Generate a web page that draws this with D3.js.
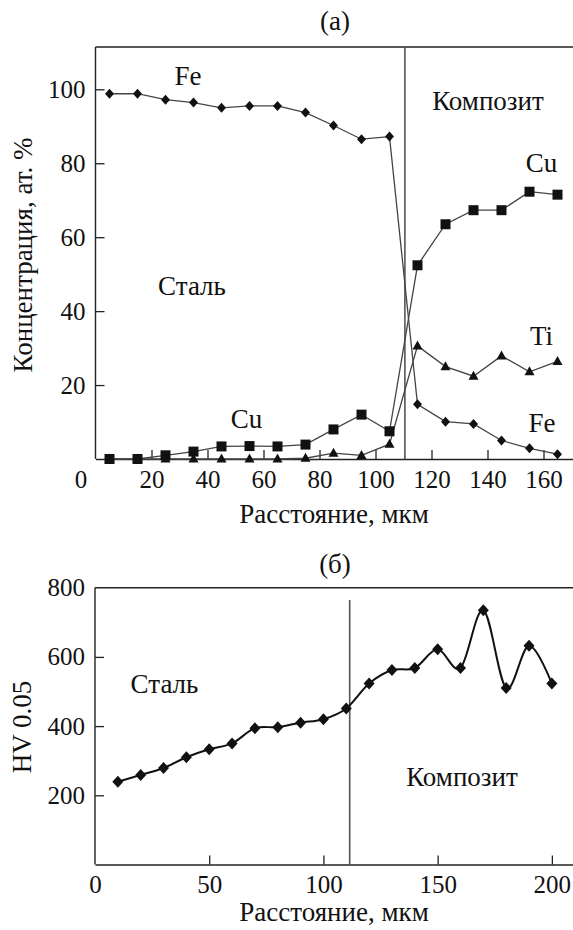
<!DOCTYPE html>
<html><head><meta charset="utf-8">
<script src="https://cdn.jsdelivr.net/npm/d3@7"></script>
<style>body{margin:0;background:#fff}</style>
</head><body>
<svg id="c" width="573" height="930"></svg>
<script>
// ---- data (a) ----
const distA = [5,15,25,35,45,55,65,75,85,95,105,115,125,135,145,155,165];
const feA = [98.8,98.8,97.2,96.4,95.0,95.5,95.5,93.7,90.2,86.5,87.2,14.8,10.1,9.5,5.0,2.9,1.3];
const cuA = [0,0,1.0,2.0,3.4,3.5,3.4,3.9,8.0,12.0,7.5,52.4,63.5,67.3,67.3,72.3,71.5];
const tiA = [0,0,0,0,0,0,0,0.2,1.6,1.0,4.0,30.6,25.0,22.4,27.9,23.6,26.4];
const yTicksA = [20,40,60,80,100];
const xTicksA = [0,20,40,60,80,100,120,140,160];
const boundaryA = 110.5;
// ---- data (b) ----
const distB = [10,20,30,40,50,60,70,80,90,100,110,120,130,140,150,160,170,180,190,200];
const hvB = [239,259,279,310,333,350,394,397,410,420,451,523,562,568,622,568,735,510,632,523];
const yTicksB = [200,400,600,800];
const xTicksB = [0,50,100,150,200];
const boundaryB = 111.5;

const svg = d3.select("#c");
const FS = 25, LFS = 27;
const FF = "'Liberation Serif', 'DejaVu Serif', serif";

const diamond = (w,h)=>({draw(ctx){ctx.moveTo(0,-h);ctx.lineTo(w,0);ctx.lineTo(0,h);ctx.lineTo(-w,0);ctx.closePath();}});
const tri = (w,h)=>({draw(ctx){ctx.moveTo(0,-h*0.6);ctx.lineTo(w,h*0.4);ctx.lineTo(-w,h*0.4);ctx.closePath();}});
const square = (s)=>({draw(ctx){ctx.rect(-s,-s,2*s,2*s);}});

function styleAxis(a){
  a.attr("font-family",null).attr("font-size",null);
  a.select(".domain").attr("stroke","#222").attr("stroke-width",1.4);
  a.selectAll(".tick line").attr("stroke","#222").attr("stroke-width",1.3);
  a.selectAll("text").style("font-size",FS+"px").style("font-family",FF).attr("fill","#111");
}
function lbl(g,t,xx,yy){
  return g.append("text").attr("x",xx).attr("y",yy).attr("text-anchor","middle")
    .style("font-size",LFS+"px").style("font-family",FF).attr("fill","#111").text(t);
}

// ===== Chart (a) =====
{
  const L=95.5, T=47, R=573, B=459;
  const x = d3.scaleLinear().domain([0,(R-L)/2.8]).range([L,R]);
  const y = d3.scaleLinear().domain([0,(B-T)/3.697]).range([B,T]);
  const g = svg.append("g");
  g.append("line").attr("x1",L).attr("x2",R+5).attr("y1",T).attr("y2",T).attr("stroke","#222").attr("stroke-width",1.4);
  const ya = g.append("g").attr("transform",`translate(${L},0)`)
    .call(d3.axisLeft(y).tickValues(yTicksA).tickSizeInner(-9).tickSizeOuter(0).tickPadding(10));
  const xa = g.append("g").attr("transform",`translate(0,${B})`)
    .call(d3.axisBottom(x).tickValues(xTicksA).tickSizeInner(-9).tickSizeOuter(0).tickPadding(11));
  styleAxis(ya); styleAxis(xa);
  ya.select(".domain").attr("d",`M0,${B}V${T}`);
  xa.selectAll(".tick").filter(d=>d===0).select("text").attr("dx",-15);
  xa.selectAll(".tick").filter(d=>d===0).select("line").remove();

  g.append("line").attr("x1",x(boundaryA)).attr("x2",x(boundaryA)).attr("y1",T).attr("y2",B)
    .attr("stroke","#555").attr("stroke-width",1.6);

  const line = d3.line().x((d,i)=>x(distA[i])).y(d=>y(d));
  const series = [[feA,diamond(4.5,5)],[cuA,square(5)],[tiA,tri(5,9)]];
  series.forEach(([vals])=>{
    g.append("path").attr("d",line(vals)).attr("fill","none").attr("stroke","#444").attr("stroke-width",1.3);
  });
  series.forEach(([vals,sym])=>{
    g.selectAll(null).data(vals).enter().append("path")
      .attr("transform",(d,i)=>`translate(${x(distA[i])},${y(d)})`)
      .attr("d",d3.symbol().type(sym)()).attr("fill","#111");
  });

  lbl(g,"(a)",335,30);
  lbl(g,"Fe",188,85);
  lbl(g,"Композит",488,110);
  lbl(g,"Cu",541.5,172);
  lbl(g,"Сталь",192,295);
  lbl(g,"Cu",246.5,428);
  lbl(g,"Ti",541.5,345);
  lbl(g,"Fe",542,432);
  lbl(g,"Расстояние, мкм",334,523);
  lbl(g,"Концентрация, ат. %",0,0).attr("transform",`translate(32,255) rotate(-90)`);
}

// ===== Chart (b) =====
{
  const L=95, T=587.7, R=573, B=864.5;
  const x = d3.scaleLinear().domain([0,(R-L)/2.2843]).range([L,R]);
  const y = d3.scaleLinear().domain([0,800]).range([B,T]);
  const g = svg.append("g");
  g.append("line").attr("x1",L).attr("x2",R+5).attr("y1",T).attr("y2",T).attr("stroke","#222").attr("stroke-width",1.4);
  const ya = g.append("g").attr("transform",`translate(${L},0)`)
    .call(d3.axisLeft(y).tickValues(yTicksB).tickSizeInner(-9).tickSizeOuter(0).tickPadding(10));
  const xa = g.append("g").attr("transform",`translate(0,${B})`)
    .call(d3.axisBottom(x).tickValues(xTicksB).tickSizeInner(-9).tickSizeOuter(0).tickPadding(11));
  styleAxis(ya); styleAxis(xa);
  ya.select(".domain").attr("d",`M0,${B}V${T}`);
  ya.selectAll(".tick").filter(d=>d===800).select("line").remove();
  xa.selectAll(".tick").filter(d=>d===0).select("line").remove();

  g.append("line").attr("x1",x(boundaryB)).attr("x2",x(boundaryB)).attr("y1",600).attr("y2",B)
    .attr("stroke","#555").attr("stroke-width",1.6);

  const line = d3.line().x((d,i)=>x(distB[i])).y(d=>y(d)).curve(d3.curveCardinal.tension(0));
  g.append("path").attr("d",line(hvB)).attr("fill","none").attr("stroke","#111").attr("stroke-width",2);
  g.selectAll(null).data(hvB).enter().append("path")
    .attr("transform",(d,i)=>`translate(${x(distB[i])},${y(d)})`)
    .attr("d",d3.symbol().type(diamond(5.5,6))()).attr("fill","#111");

  lbl(g,"(б)",335,573);
  lbl(g,"Сталь",164.5,693);
  lbl(g,"Композит",462,786);
  lbl(g,"Расстояние, мкм",334,921);
  lbl(g,"HV 0.05",0,0).attr("transform",`translate(31,727) rotate(-90)`);
}
</script>
</body></html>
